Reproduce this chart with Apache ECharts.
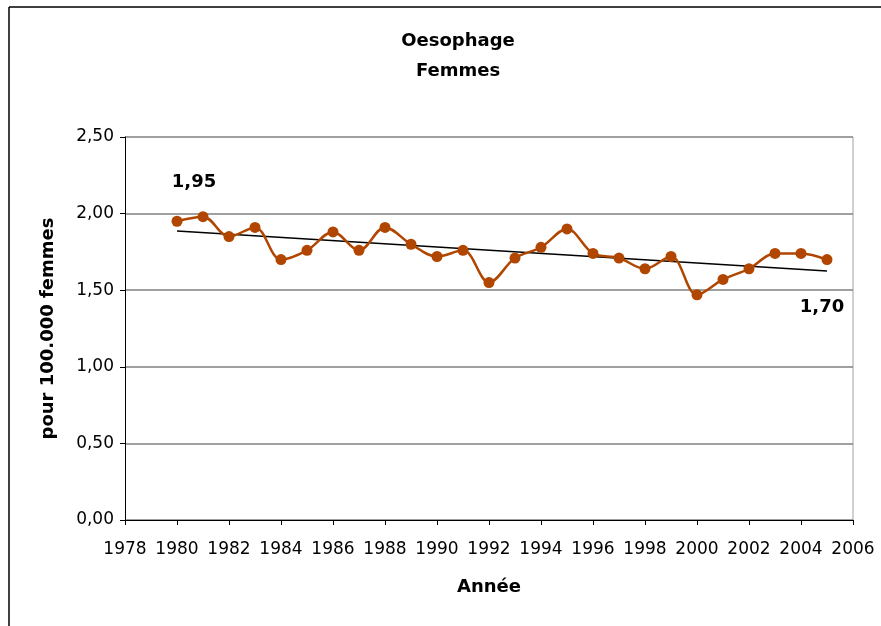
<!DOCTYPE html>
<html>
<head>
<meta charset="utf-8">
<script src="https://cdn.jsdelivr.net/npm/echarts@6/dist/echarts.min.js"></script>
<style>
  html, body { margin: 0; padding: 0; background: #fff; }
  #chart { width: 881px; height: 626px; }
</style>
</head>
<body>
<div id="chart"></div>
<script>
// données
var annees = [1980, 1981, 1982, 1983, 1984, 1985, 1986, 1987, 1988, 1989, 1990, 1991, 1992,
              1993, 1994, 1995, 1996, 1997, 1998, 1999, 2000, 2001, 2002, 2003, 2004, 2005];
var taux = [1.95, 1.98, 1.85, 1.91, 1.70, 1.76, 1.88, 1.76, 1.91, 1.80, 1.72, 1.76, 1.55,
            1.71, 1.78, 1.90, 1.74, 1.71, 1.64, 1.72, 1.47, 1.57, 1.64, 1.74, 1.74, 1.70];
// tendance linéaire (début / fin)
var tendanceAnnees = [1980, 2005];
var tendanceValeurs = [1.886, 1.625];

var police = 'DejaVu Sans, Liberation Sans, Arial, sans-serif';
var fmt = function (v) { return v.toFixed(2).replace('.', ','); };

var points = annees.map(function (a, i) {
  var p = { value: [a, taux[i]] };
  if (i === 0) {
    p.label = { show: true, position: 'top', offset: [17, -19] };
  } else if (i === annees.length - 1) {
    p.label = { show: true, position: 'bottom', offset: [-5, 28] };
  }
  return p;
});

var chart = echarts.init(document.getElementById('chart'));
chart.setOption({
  animation: false,
  textStyle: { fontFamily: police },
  title: {
    text: 'Oesophage\nFemmes',
    left: 453,
    textAlign: 'center',
    top: 21,
    textStyle: { fontFamily: police, fontSize: 18, fontWeight: 'bold', color: '#000', lineHeight: 30 }
  },
  graphic: [
    { type: 'line', shape: { x1: 9, y1: 7, x2: 881, y2: 7 }, style: { stroke: '#000', lineWidth: 1.5 } },
    { type: 'line', shape: { x1: 9, y1: 7, x2: 9, y2: 626 }, style: { stroke: '#000', lineWidth: 1.5 } },
    { type: 'line', shape: { x1: 853, y1: 137, x2: 853, y2: 520 }, style: { stroke: '#c0c0c0', lineWidth: 1.5 } }
  ],
  grid: { left: 125, top: 137, right: 28, bottom: 106, containLabel: false },
  xAxis: {
    type: 'value',
    min: 1978,
    max: 2006,
    interval: 2,
    name: 'Année',
    nameLocation: 'middle',
    nameGap: 58,
    nameTextStyle: { fontFamily: police, fontSize: 18, fontWeight: 'bold', color: '#000' },
    axisLine: { lineStyle: { color: '#000', width: 1 } },
    axisTick: { show: true, length: 5, lineStyle: { color: '#000' } },
    axisLabel: { fontFamily: police, fontSize: 17, color: '#000', margin: 21, formatter: function (v) { return String(v); } },
    splitLine: { show: false }
  },
  yAxis: {
    type: 'value',
    min: 0,
    max: 2.5,
    interval: 0.5,
    name: 'pour 100.000 femmes',
    nameLocation: 'middle',
    nameGap: 68,
    nameTextStyle: { fontFamily: police, fontSize: 18, fontWeight: 'bold', color: '#000' },
    axisLine: { show: true, lineStyle: { color: '#000', width: 1 } },
    axisTick: { show: true, length: 5, lineStyle: { color: '#000' } },
    axisLabel: { fontFamily: police, fontSize: 17, color: '#000', margin: 11, formatter: fmt },
    splitLine: { show: true, lineStyle: { color: '#808080', width: 1.5 } }
  },
  series: [
    {
      name: 'Tendance',
      type: 'line',
      data: tendanceAnnees.map(function (a, i) { return [a, tendanceValeurs[i]]; }),
      symbol: 'none',
      lineStyle: { color: '#000', width: 1.5 },
      z: 2
    },
    {
      name: 'Taux',
      type: 'line',
      data: points,
      smooth: 0.35,
      symbol: 'circle',
      symbolSize: 11,
      itemStyle: { color: '#b04600' },
      lineStyle: { color: '#b04600', width: 2.5 },
      label: {
        show: false,
        fontFamily: police,
        fontSize: 18,
        fontWeight: 'bold',
        color: '#000',
        formatter: function (p) { return fmt(p.value[1]); }
      },
      z: 3
    }
  ]
});
</script>
</body>
</html>
